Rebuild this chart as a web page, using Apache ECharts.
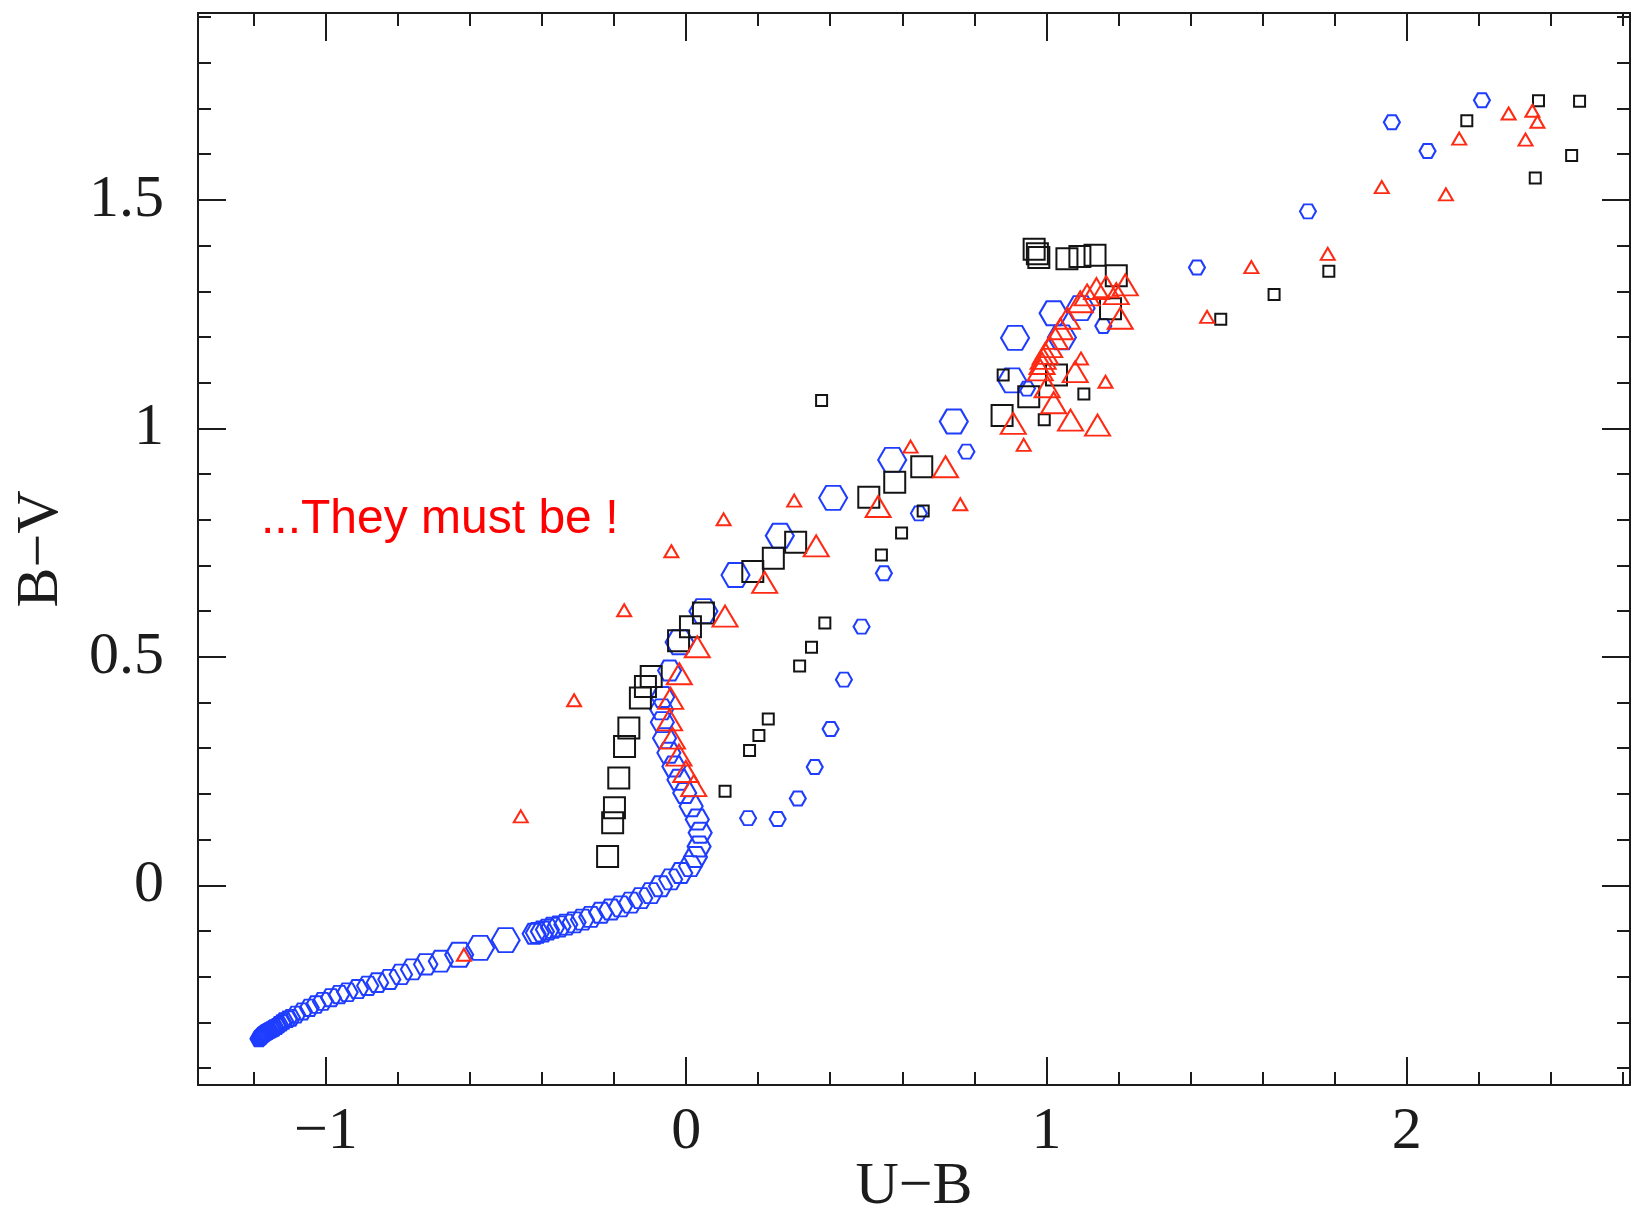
<!DOCTYPE html>
<html>
<head>
<meta charset="utf-8">
<title>U−B / B−V two-colour diagram</title>
<script src="https://cdn.jsdelivr.net/npm/echarts@6/dist/echarts.min.js"></script>
<style>
  html, body { margin: 0; padding: 0; background: #ffffff; }
  #chart { width: 1632px; height: 1215px; }
</style>
</head>
<body>
<div id="chart"></div>
<script>
// ---- tick values and labels -------------------------------------------
const xMajorTicks = [-1, 0, 1, 2];
const xMinorTicks = [-1.2, -0.8, -0.6, -0.4, -0.2, 0.2, 0.4, 0.6, 0.8, 1.2, 1.4, 1.6, 1.8, 2.2, 2.4, 2.6];
const yMajorTicks = [0, 0.5, 1, 1.5];
const yMinorTicks = [-0.4, -0.3, -0.2, -0.1, 0.1, 0.2, 0.3, 0.4, 0.6, 0.7, 0.8, 0.9,
                     1.1, 1.2, 1.3, 1.4, 1.6, 1.7, 1.8, 1.9];
const xAxisTitle = 'U\u2212B';
const yAxisTitle = 'B\u2212V';
const noteText = '...They must be !';

// ---- points: [U−B, B−V] -------------------------------------------------
// continuous blue sequence (hot end first)
const blueSequence = [
  [-1.186, -0.336], [-1.184, -0.334], [-1.182, -0.333], [-1.180, -0.331], [-1.178, -0.330],
  [-1.176, -0.328], [-1.174, -0.327], [-1.171, -0.325], [-1.168, -0.323], [-1.165, -0.322],
  [-1.161, -0.320], [-1.157, -0.318], [-1.152, -0.316], [-1.147, -0.314], [-1.143, -0.312],
  [-1.136, -0.309], [-1.130, -0.305], [-1.123, -0.301], [-1.116, -0.297], [-1.106, -0.293],
  [-1.097, -0.290], [-1.083, -0.283], [-1.065, -0.276], [-1.046, -0.268], [-1.028, -0.261],
  [-1.009, -0.254], [-0.986, -0.246], [-0.963, -0.239], [-0.940, -0.234], [-0.912, -0.227],
  [-0.884, -0.220], [-0.857, -0.213], [-0.824, -0.206], [-0.792, -0.195], [-0.760, -0.184],
  [-0.723, -0.173], [-0.681, -0.166],
  [-0.422, -0.106], [-0.413, -0.104], [-0.399, -0.101], [-0.385, -0.097], [-0.371, -0.093],
  [-0.353, -0.090], [-0.334, -0.086], [-0.311, -0.081], [-0.288, -0.075], [-0.265, -0.069],
  [-0.237, -0.060], [-0.209, -0.053], [-0.182, -0.046], [-0.154, -0.038], [-0.126, -0.028],
  [-0.098, -0.017], [-0.071, -0.002], [-0.043, 0.013], [-0.015, 0.027], [0.012, 0.042],
  [0.026, 0.062], [0.036, 0.085], [0.039, 0.115], [0.031, 0.144], [0.014, 0.173],
  [-0.004, 0.202], [-0.020, 0.231], [-0.034, 0.260], [-0.048, 0.290], [-0.060, 0.322],
  [-0.066, 0.357], [-0.068, 0.385], [-0.065, 0.412], [-0.046, 0.470]
];
const blueLarge = [
  [-0.630, -0.152], [-0.572, -0.137], [-0.501, -0.120], [-0.018, 0.532], [0.048, 0.600],
  [0.137, 0.679], [0.260, 0.765], [0.408, 0.848], [0.572, 0.931], [0.743, 1.015],
  [0.905, 1.105], [0.913, 1.198], [1.020, 1.252], [1.043, 1.199], [1.095, 1.263]
];
const blueSmall = [
  [0.172, 0.147], [0.254, 0.145], [0.310, 0.190], [0.357, 0.259], [0.401, 0.342],
  [0.438, 0.450], [0.487, 0.566], [0.549, 0.683], [0.646, 0.814], [0.778, 0.949],
  [0.946, 1.087], [1.158, 1.224], [1.418, 1.352], [1.726, 1.475], [1.959, 1.670],
  [2.058, 1.607], [2.209, 1.718]
];
const blackLarge = [
  [-0.218, 0.063], [-0.204, 0.137], [-0.199, 0.170], [-0.187, 0.235], [-0.171, 0.304],
  [-0.159, 0.344], [-0.127, 0.410], [-0.113, 0.435], [-0.097, 0.457], [-0.021, 0.535],
  [0.012, 0.566], [0.048, 0.596], [0.185, 0.687], [0.242, 0.716], [0.304, 0.751],
  [0.507, 0.849], [0.579, 0.882], [0.654, 0.916], [0.877, 1.028], [0.951, 1.069],
  [1.028, 1.117], [0.966, 1.392], [0.975, 1.382], [0.979, 1.374], [1.057, 1.371],
  [1.093, 1.376], [1.135, 1.379], [1.194, 1.334], [1.178, 1.262]
];
const blackSmall = [
  [0.108, 0.206], [0.176, 0.295], [0.202, 0.328], [0.228, 0.364], [0.315, 0.480],
  [0.348, 0.521], [0.385, 0.574], [0.376, 1.061], [0.542, 0.723], [0.598, 0.771],
  [0.658, 0.819], [0.880, 1.117], [0.994, 1.019], [1.104, 1.075], [1.484, 1.239],
  [1.632, 1.293], [1.784, 1.344], [2.167, 1.673], [2.366, 1.717], [2.480, 1.716],
  [2.458, 1.597], [2.357, 1.548]
];
const redLarge = [
  [0.021, 0.218], [-0.001, 0.249], [-0.020, 0.285], [-0.038, 0.322], [-0.046, 0.362],
  [-0.043, 0.409], [-0.019, 0.463], [0.031, 0.522], [0.108, 0.589], [0.218, 0.663],
  [0.361, 0.743], [0.533, 0.829], [0.720, 0.916], [0.908, 1.011], [1.002, 1.091],
  [0.983, 1.128], [0.988, 1.142], [0.991, 1.153], [0.997, 1.164], [1.009, 1.179],
  [1.025, 1.197], [1.039, 1.218], [1.058, 1.241], [1.080, 1.124], [1.020, 1.056],
  [1.067, 1.018], [1.142, 1.007], [1.205, 1.241], [1.094, 1.277], [1.113, 1.292],
  [1.139, 1.306], [1.166, 1.310], [1.194, 1.295], [1.219, 1.314]
];
const redSmall = [
  [-0.617, -0.152], [-0.459, 0.151], [-0.311, 0.405], [-0.172, 0.602], [-0.041, 0.731],
  [0.104, 0.801], [0.300, 0.842], [0.623, 0.960], [0.761, 0.834], [0.937, 0.964],
  [1.096, 1.153], [1.164, 1.102], [1.446, 1.244], [1.569, 1.353], [1.781, 1.382],
  [1.931, 1.528], [2.109, 1.512], [2.146, 1.634], [2.283, 1.689], [2.349, 1.695],
  [2.363, 1.671], [2.330, 1.632]
];

// ---- styling -----------------------------------------------------------
const X_RANGE = [-1.355, 2.62];
const Y_RANGE = [-0.437, 1.909];
const INK = '#1c1c1c';
const BLUE = '#1f3dff';
const RED = '#ff2a14';
const BLACK = '#141414';
const SERIF = '"Liberation Serif", "DejaVu Serif", serif';
const HEX = 'path://M0,43.3 L25,0 L75,0 L100,43.3 L75,86.6 L25,86.6 Z';

const minus = v => String(v).replace('-', '\u2212');

function frameAxis(position, range, ticks, tickLen, showLine, extra) {
  return Object.assign({
    type: 'value',
    position: position,
    min: range[0],
    max: range[1],
    splitLine: { show: false },
    axisLine: { show: showLine, onZero: false, lineStyle: { color: INK, width: 2 } },
    axisTick: { show: true, inside: true, length: tickLen, customValues: ticks,
                lineStyle: { color: INK, width: 2 } },
    axisLabel: { show: false },
    axisPointer: { show: false }
  }, extra || {});
}

const xLabel = {
  show: true, customValues: xMajorTicks, formatter: v => minus(v),
  fontFamily: SERIF, fontSize: 60, color: INK, margin: 17
};
const yLabel = {
  show: true, customValues: yMajorTicks, formatter: v => minus(v),
  fontFamily: SERIF, fontSize: 60, color: INK, margin: 34
};
const titleStyle = { fontFamily: SERIF, fontSize: 60, color: INK };

// hexagon width shrinks toward the hot end of the sequence
function sequenceSize(v) {
  const w = v[0] < -0.45 ? 17 + (v[0] + 1.18) * 14 : 23;
  return [w, w * 0.87];
}

function scatter(data, symbol, size, color) {
  return {
    type: 'scatter',
    xAxisIndex: 0,
    yAxisIndex: 0,
    data: data,
    symbol: symbol,
    symbolSize: size,
    silent: true,
    animation: false,
    emphasis: { disabled: true },
    itemStyle: { color: 'rgba(0,0,0,0)', borderColor: color, borderWidth: 2, opacity: 1 }
  };
}

const chart = echarts.init(document.getElementById('chart'), null, { renderer: 'canvas' });
chart.setOption({
  backgroundColor: '#ffffff',
  animation: false,
  grid: { left: 198, right: 2, top: 13, bottom: 130, containLabel: false, outerBoundsMode: 'none' },
  xAxis: [
    frameAxis('bottom', X_RANGE, xMinorTicks, 13, true, {
      name: xAxisTitle, nameLocation: 'middle', nameGap: 72, nameTextStyle: titleStyle
    }),
    frameAxis('bottom', X_RANGE, xMajorTicks, 28, false, { axisLabel: xLabel }),
    frameAxis('top', X_RANGE, xMinorTicks, 13, true),
    frameAxis('top', X_RANGE, xMajorTicks, 28, false)
  ],
  yAxis: [
    frameAxis('left', Y_RANGE, yMinorTicks, 13, true, {
      name: yAxisTitle, nameLocation: 'middle', nameGap: 127, nameRotate: 90,
      nameTextStyle: titleStyle
    }),
    frameAxis('left', Y_RANGE, yMajorTicks, 28, false, { axisLabel: yLabel }),
    frameAxis('right', Y_RANGE, yMinorTicks, 13, true),
    frameAxis('right', Y_RANGE, yMajorTicks, 28, false)
  ],
  series: [
    scatter(blueSequence, HEX, sequenceSize, BLUE),
    scatter(blueLarge, HEX, [28, 24], BLUE),
    scatter(blueSmall, HEX, [16, 14], BLUE),
    scatter(blackLarge, 'rect', [21, 21], BLACK),
    scatter(blackSmall, 'rect', [11, 11], BLACK),
    scatter(redLarge, 'triangle', [25, 21], RED),
    scatter(redSmall, 'triangle', [14, 12], RED)
  ],
  graphic: [{
    type: 'text',
    left: 261,
    top: 496,
    silent: true,
    style: {
      text: noteText,
      fontFamily: '"Liberation Sans", Arial, sans-serif',
      fontSize: 48,
      fill: '#ff0000'
    }
  }]
});
</script>
</body>
</html>
